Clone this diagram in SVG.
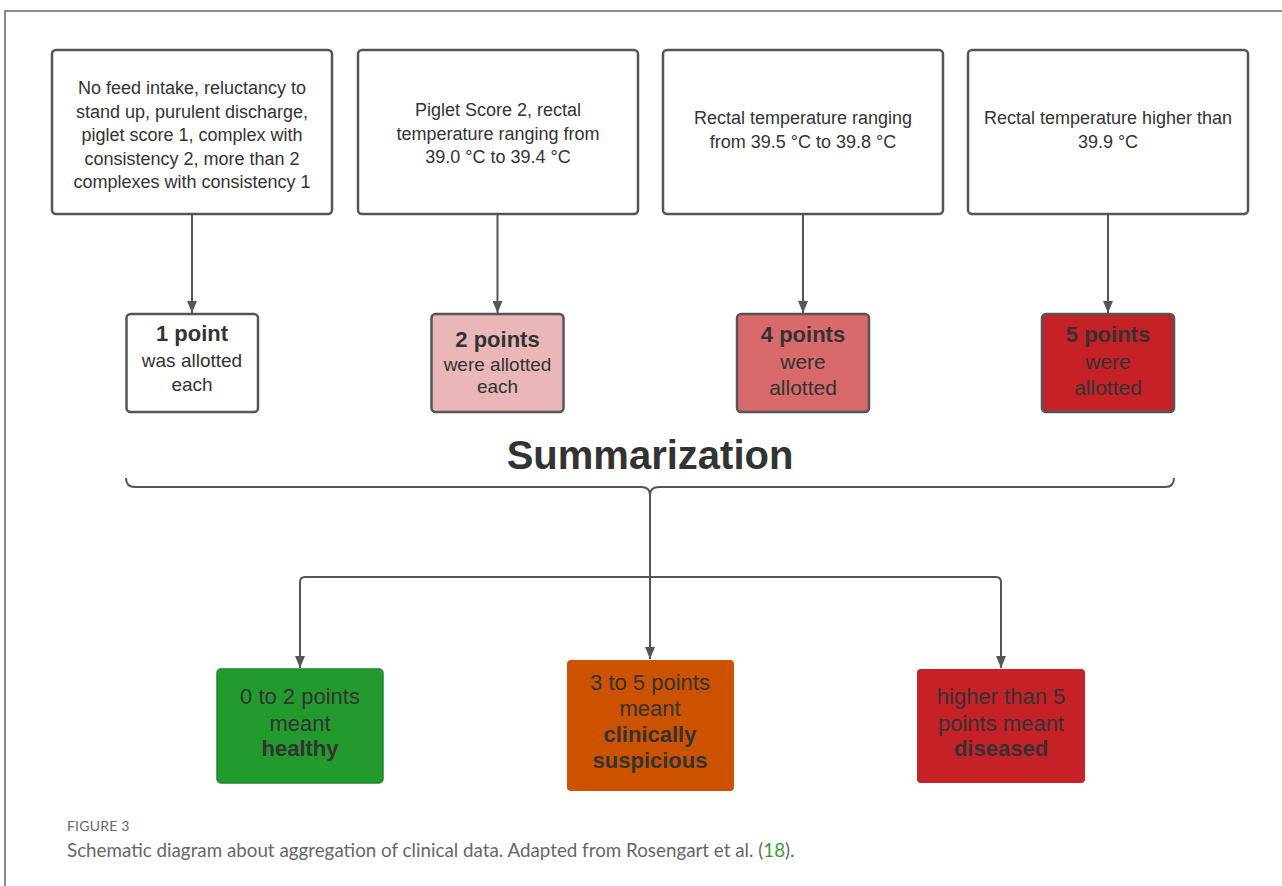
<svg xmlns="http://www.w3.org/2000/svg" width="1282" height="886" viewBox="0 0 1282 886">
<defs>
<style>
.t{font-family:"Liberation Sans",Arial,sans-serif;fill:#333;text-anchor:middle}
.top{font-size:18px}
.b{font-weight:bold}
.box{stroke:#555;stroke-width:2.5}
.ln{fill:none;stroke:#555;stroke-width:2}
.cap{font-family:Lato,"Open Sans",sans-serif;fill:#666}
</style>
<marker id="ah" viewBox="0 0 12 10" refX="12" refY="5" markerWidth="12" markerHeight="10" markerUnits="userSpaceOnUse" orient="auto-start-reverse">
<path d="M0,0 L12,5 L0,10 Z" fill="#555"/>
</marker>
</defs>
<rect width="1282" height="886" fill="#fff"/>
<path d="M5,886 V11 H1282" fill="none" stroke="#666" stroke-width="1.5"/>

<g id="connectors">
<line class="ln" x1="192" y1="215" x2="192" y2="313" marker-end="url(#ah)"/>
<line class="ln" x1="497.5" y1="215" x2="497.5" y2="313" marker-end="url(#ah)"/>
<line class="ln" x1="803" y1="215" x2="803" y2="313" marker-end="url(#ah)"/>
<line class="ln" x1="1108" y1="215" x2="1108" y2="313" marker-end="url(#ah)"/>
<path class="ln" d="M126,478 Q126,487 135,487 L641,487 Q650,487 650,495 Q650,487 659,487 L1165,487 Q1174,487 1174,478" stroke-width="2.5"/>
<line class="ln" x1="650" y1="494" x2="650" y2="659" marker-end="url(#ah)"/>
<path class="ln" d="M300,668 V582 Q300,577 305,577 H996 Q1001,577 1001,582 V668" marker-start="url(#ah)" marker-end="url(#ah)"/>
</g>

<g id="crit1">
<rect class="box" x="52" y="50" width="280" height="164" rx="4" fill="#fff"/>
<text class="t top"><tspan x="192" y="94">No feed intake, reluctancy to</tspan><tspan x="192" y="117.5">stand up, purulent discharge,</tspan><tspan x="192" y="141">piglet score 1, complex with</tspan><tspan x="192" y="164.5">consistency 2, more than 2</tspan><tspan x="192" y="188">complexes with consistency 1</tspan></text>
</g>
<g id="crit2">
<rect class="box" x="358" y="50" width="280" height="164" rx="4" fill="#fff"/>
<text class="t top"><tspan x="498" y="116">Piglet Score 2, rectal</tspan><tspan x="498" y="139.5">temperature ranging from</tspan><tspan x="498" y="163">39.0 °C to 39.4 °C</tspan></text>
</g>
<g id="crit3">
<rect class="box" x="663" y="50" width="280" height="164" rx="4" fill="#fff"/>
<text class="t top"><tspan x="803" y="124">Rectal temperature ranging</tspan><tspan x="803" y="147.5">from 39.5 °C to 39.8 °C</tspan></text>
</g>
<g id="crit4">
<rect class="box" x="968" y="50" width="280" height="164" rx="4" fill="#fff"/>
<text class="t top"><tspan x="1108" y="124">Rectal temperature higher than</tspan><tspan x="1108" y="147.5">39.9 °C</tspan></text>
</g>

<g id="pts1">
<rect class="box" x="126.5" y="314" width="131.5" height="98" rx="4" fill="#fff"/>
<text class="t b" x="192" y="341" font-size="22">1 point</text>
<text class="t" font-size="19"><tspan x="192" y="367">was allotted</tspan><tspan x="192" y="391">each</tspan></text>
</g>
<g id="pts2">
<rect class="box" x="431.5" y="314" width="132" height="98" rx="4" fill="#e9b7b7"/>
<text class="t b" x="497.5" y="347" font-size="22">2 points</text>
<text class="t" font-size="19"><tspan x="497.5" y="371">were allotted</tspan><tspan x="497.5" y="393">each</tspan></text>
</g>
<g id="pts4">
<rect class="box" x="737" y="314" width="132" height="98" rx="4" fill="#d96a6c"/>
<text class="t b" x="803" y="342" font-size="22">4 points</text>
<text class="t" font-size="21"><tspan x="803" y="368.5">were</tspan><tspan x="803" y="394.5">allotted</tspan></text>
</g>
<g id="pts5">
<rect class="box" x="1042" y="314" width="132" height="98" rx="4" fill="#c62127"/>
<text class="t b" x="1108" y="342" font-size="22">5 points</text>
<text class="t" font-size="21"><tspan x="1108" y="368.5">were</tspan><tspan x="1108" y="394.5">allotted</tspan></text>
</g>

<g id="summarization">
<text class="t b" x="650" y="469" font-size="40">Summarization</text>
</g>

<g id="healthy">
<rect x="217" y="669" width="166" height="114" rx="4" fill="#229a2e" stroke="#1a8a25" stroke-width="1.5"/>
<text class="t" font-size="22"><tspan x="300" y="704">0 to 2 points</tspan><tspan x="300" y="731">meant</tspan><tspan x="300" y="756" font-weight="bold">healthy</tspan></text>
</g>
<g id="suspicious">
<rect x="567" y="660" width="167" height="131" rx="4" fill="#cc5200"/>
<text class="t" font-size="22"><tspan x="650" y="690">3 to 5 points</tspan><tspan x="650" y="716">meant</tspan><tspan x="650" y="742" font-weight="bold">clinically</tspan><tspan x="650" y="768" font-weight="bold">suspicious</tspan></text>
</g>
<g id="diseased">
<rect x="917" y="669" width="168" height="114" rx="4" fill="#c62127"/>
<text class="t" font-size="22"><tspan x="1001" y="704">higher than 5</tspan><tspan x="1001" y="731">points meant</tspan><tspan x="1001" y="756" font-weight="bold">diseased</tspan></text>
</g>

<g id="caption">
<text class="cap" x="67" y="831" font-size="14" letter-spacing="0.2">FIGURE 3</text>
<text class="cap" x="67" y="857" font-size="18.8">Schematic diagram about aggregation of clinical data. Adapted from Rosengart et al. (<tspan fill="#3a9a3a">18</tspan>).</text>
</g>
</svg>
